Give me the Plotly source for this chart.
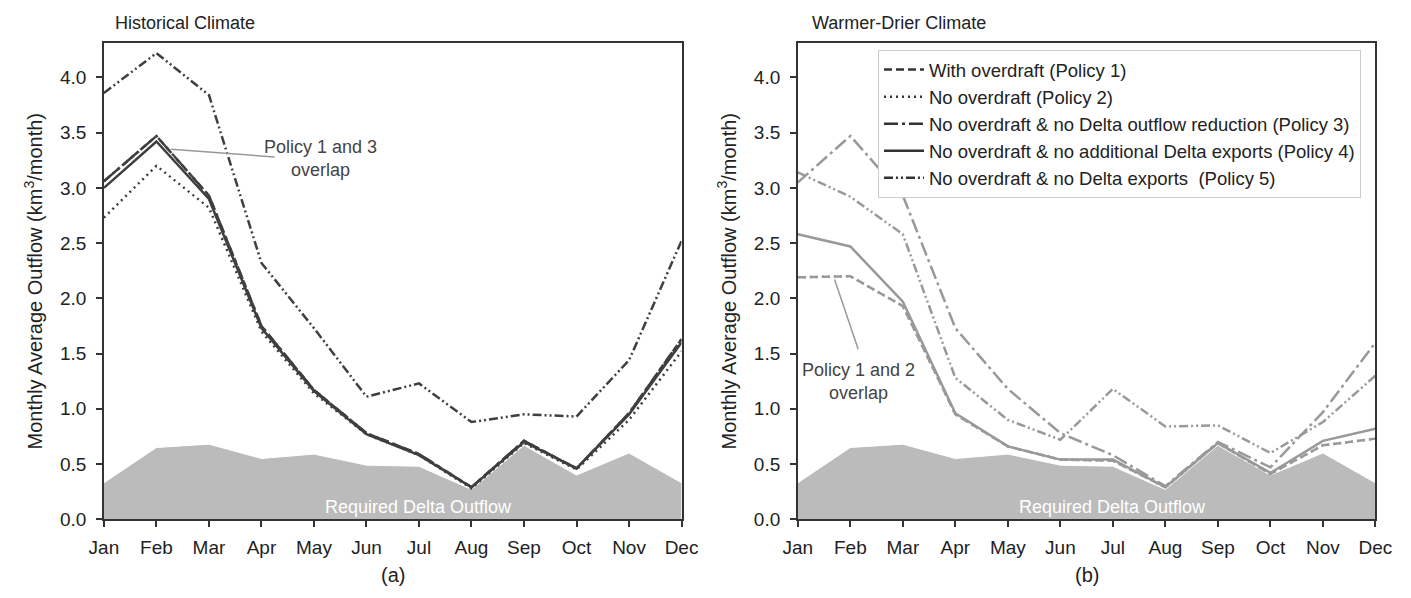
import plotly.graph_objects as go

months = ["Jan", "Feb", "Mar", "Apr", "May", "Jun", "Jul", "Aug", "Sep", "Oct", "Nov", "Dec"]

required_outflow = [0.33, 0.65, 0.68, 0.55, 0.59, 0.49, 0.48, 0.27, 0.67, 0.40, 0.60, 0.33]

# Historical climate
hist_p1 = [3.06, 3.47, 2.93, 1.75, 1.17, 0.78, 0.59, 0.29, 0.71, 0.46, 0.96, 1.63]
hist_p2 = [2.73, 3.20, 2.82, 1.70, 1.14, 0.77, 0.58, 0.28, 0.69, 0.45, 0.90, 1.52]
hist_p3 = [3.06, 3.47, 2.93, 1.75, 1.17, 0.78, 0.59, 0.29, 0.71, 0.46, 0.96, 1.63]
hist_p4 = [3.00, 3.42, 2.90, 1.73, 1.16, 0.77, 0.58, 0.29, 0.70, 0.46, 0.95, 1.60]
hist_p5 = [3.86, 4.22, 3.84, 2.32, 1.73, 1.11, 1.23, 0.88, 0.95, 0.93, 1.44, 2.52]

# Warmer-drier climate
wd_p1 = [2.19, 2.20, 1.93, 0.95, 0.66, 0.54, 0.53, 0.29, 0.69, 0.41, 0.67, 0.73]
wd_p2 = [2.19, 2.20, 1.93, 0.95, 0.66, 0.54, 0.53, 0.29, 0.69, 0.41, 0.67, 0.73]
wd_p3 = [3.05, 3.47, 2.93, 1.73, 1.18, 0.78, 0.58, 0.30, 0.70, 0.47, 0.97, 1.60]
wd_p4 = [2.58, 2.47, 1.97, 0.96, 0.66, 0.54, 0.54, 0.29, 0.69, 0.42, 0.71, 0.82]
wd_p5 = [3.14, 2.92, 2.58, 1.28, 0.90, 0.72, 1.18, 0.84, 0.85, 0.60, 0.88, 1.30]

policy_names = [
    "With overdraft (Policy 1)",
    "No overdraft (Policy 2)",
    "No overdraft & no Delta outflow reduction (Policy 3)",
    "No overdraft & no additional Delta exports (Policy 4)",
    "No overdraft & no Delta exports  (Policy 5)",
]

dashes = [
    "8px,4px",
    "2px,4px",
    "14px,4px,3px,4px",
    "solid",
    "9px,3px,2px,3px,2px,3px",
]

FONT = "Liberation Sans, Arial, sans-serif"
hist_color = "#3f3f3f"
wd_color = "#999999"
fill_color = "#bbbbbb"
text_color = "#222222"

fig = go.Figure()

# Required outflow fills
for xa, ya in [("x", "y"), ("x2", "y2")]:
    fig.add_trace(go.Scatter(
        x=list(range(12)), y=required_outflow, xaxis=xa, yaxis=ya,
        mode="lines", fill="tozeroy", fillcolor=fill_color,
        line=dict(color="white", width=1), showlegend=False, hoverinfo="skip"))

hist_series = [hist_p1, hist_p2, hist_p3, hist_p4, hist_p5]
wd_series = [wd_p1, wd_p2, wd_p3, wd_p4, wd_p5]
draw_order = [4, 1, 2, 3, 0]
for i in draw_order:
    fig.add_trace(go.Scatter(
        x=list(range(12)), y=hist_series[i], xaxis="x", yaxis="y",
        mode="lines", line=dict(color=hist_color, width=2.5, dash=dashes[i]),
        showlegend=False, name=policy_names[i]))
for i in draw_order:
    fig.add_trace(go.Scatter(
        x=list(range(12)), y=wd_series[i], xaxis="x2", yaxis="y2",
        mode="lines", line=dict(color=wd_color, width=2.5, dash=dashes[i]),
        showlegend=False, name=policy_names[i]))

# Legend entries (dark line samples)
for i in range(5):
    fig.add_trace(go.Scatter(
        x=[None], y=[None], xaxis="x2", yaxis="y2", mode="lines",
        line=dict(color="#333333", width=2.5, dash=dashes[i]),
        name=policy_names[i], showlegend=True))

x1d = [91 / 1411, 682 / 1411]
x2d = [801 / 1411, 1392 / 1411]
yd = [(598 - 529) / 598, (598 - 44) / 598]

axis_common = dict(
    showline=True, linecolor="#333333", linewidth=1.5, mirror=True,
    ticks="outside", ticklen=6, tickwidth=1.5, tickcolor="#333333",
    showgrid=False, zeroline=False,
    tickfont=dict(family=FONT, size=19, color=text_color),
)

xaxis_common = dict(axis_common, tickmode="array", tickvals=list(range(12)),
                    ticktext=months, range=[0, 11], ticklabelstandoff=4)
yaxis_common = dict(axis_common, range=[0, 4.31], tickmode="array",
                    tickvals=[0, 0.5, 1, 1.5, 2, 2.5, 3, 3.5, 4],
                    ticktext=["0.0", "0.5", "1.0", "1.5", "2.0", "2.5", "3.0", "3.5", "4.0"],
                    ticklabelstandoff=6,
                    title=dict(text="Monthly Average Outflow (km<sup>3</sup>/month)",
                               font=dict(family=FONT, size=20, color=text_color),
                               standoff=12))

fig.update_layout(
    width=1411, height=598,
    margin=dict(l=0, r=0, t=0, b=0),
    paper_bgcolor="white", plot_bgcolor="white",
    font=dict(family=FONT, color=text_color),
    xaxis=dict(xaxis_common, domain=x1d, anchor="y"),
    yaxis=dict(yaxis_common, domain=yd, anchor="x"),
    xaxis2=dict(xaxis_common, domain=x2d, anchor="y2"),
    yaxis2=dict(yaxis_common, domain=yd, anchor="x2"),
    legend=dict(x=883 / 1411, y=(598 - 51) / 598, xanchor="left", yanchor="top",
                bgcolor="white", bordercolor="#cccccc", borderwidth=1,
                font=dict(family=FONT, size=18.5, color=text_color),
                tracegroupgap=0, itemwidth=40),
    showlegend=True,
)

annotations = [
    dict(text="Historical Climate", x=100 / 1411, y=(598 - 23) / 598, xref="paper", yref="paper",
         xanchor="left", yanchor="middle", showarrow=False,
         font=dict(family=FONT, size=18, color=text_color)),
    dict(text="Warmer-Drier Climate", x=813 / 1411, y=(598 - 23) / 598, xref="paper", yref="paper",
         xanchor="left", yanchor="middle", showarrow=False,
         font=dict(family=FONT, size=18, color=text_color)),
    dict(text="(a)", x=(91 + 682) / 2 / 1411, y=(598 - 586) / 598, xref="paper", yref="paper",
         xanchor="center", yanchor="middle",
         showarrow=False, font=dict(family=FONT, size=20, color=text_color)),
    dict(text="(b)", x=(801 + 1392) / 2 / 1411, y=(598 - 586) / 598, xref="paper", yref="paper",
         xanchor="center", yanchor="middle",
         showarrow=False, font=dict(family=FONT, size=20, color=text_color)),
    dict(text="Required Delta Outflow", x=6, y=0.11, xref="x", yref="y",
         showarrow=False, font=dict(family=FONT, size=18, color="white")),
    dict(text="Required Delta Outflow", x=6, y=0.11, xref="x2", yref="y2",
         showarrow=False, font=dict(family=FONT, size=18, color="white")),
    dict(text="Policy 1 and 3<br>overlap", x=4.12, y=3.27, xref="x", yref="y",
         showarrow=False, font=dict(family=FONT, size=18, color="#444444")),
    dict(text="Policy 1 and 2<br>overlap", x=1.15, y=1.25, xref="x2", yref="y2",
         showarrow=False, font=dict(family=FONT, size=18, color="#444444")),
]
fig.update_layout(annotations=annotations)

# Leader lines for overlap notes
fig.add_shape(type="line", x0=1.28, y0=3.35, x1=3.25, y1=3.28, xref="x", yref="y",
              line=dict(color="#999999", width=1.5))
fig.add_shape(type="line", x0=0.70, y0=2.17, x1=1.15, y1=1.54, xref="x2", yref="y2",
              line=dict(color="#999999", width=1.5))

fig.write_html("out.html")
